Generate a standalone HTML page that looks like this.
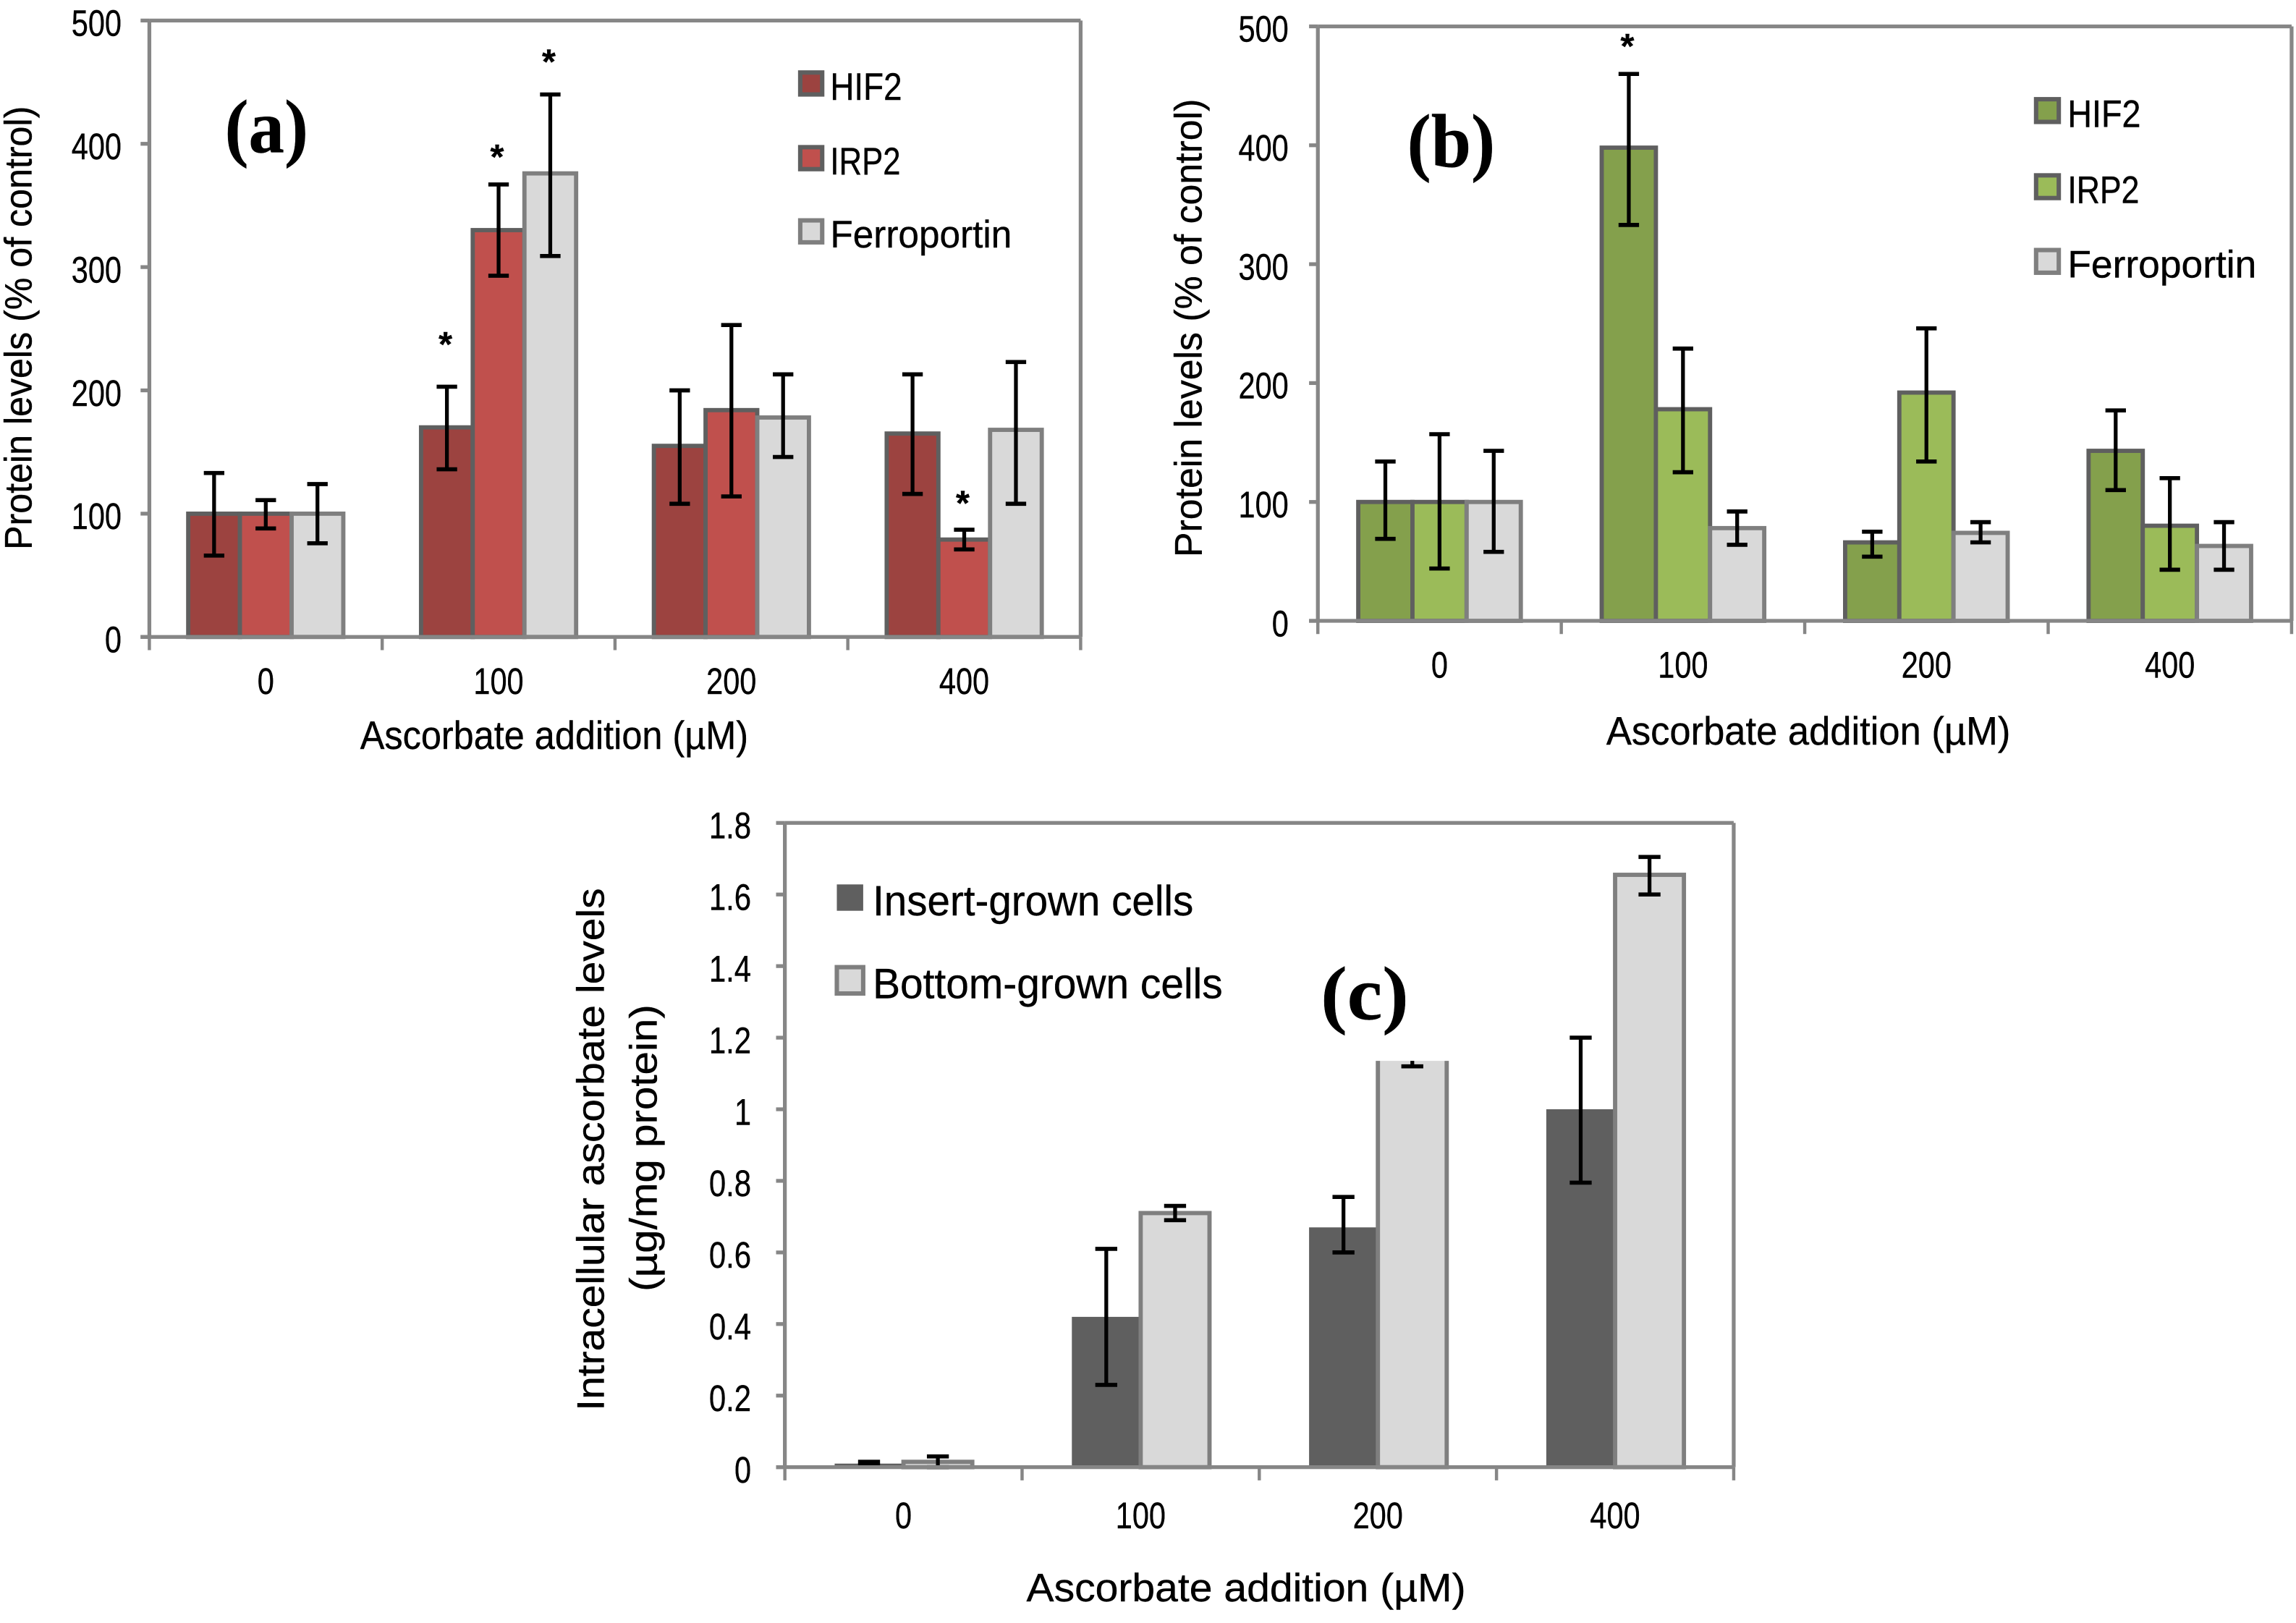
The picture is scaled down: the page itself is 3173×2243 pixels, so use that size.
<!DOCTYPE html>
<html lang="en">
<head>
<meta charset="utf-8">
<title>Protein and ascorbate levels by ascorbate addition</title>
<style>
html,body{margin:0;padding:0;background:#fff;}
svg{display:block;width:3173px;height:2243px;}
text{font-family:"Liberation Sans",sans-serif;fill:#000;stroke:#000;stroke-width:0.2;}
</style>
</head>
<body>
<svg id="figure" xmlns="http://www.w3.org/2000/svg" viewBox="0 0 1568 1108.4" width="3173" height="2243">
  <rect x="0" y="0" width="1568" height="1108.4" fill="#fff"/>
</svg>
<script>
const categories = ['0', '100', '200', '400'];

const panelASeries = ['HIF2', 'IRP2', 'Ferroportin'];
const panelAHif2 = [100, 170, 155, 165];
const panelAIrp2 = [100, 330, 184, 79];
const panelAFerro = [100, 376, 178, 168];
const panelAHif2Low = [66, 136, 108, 116];
const panelAHif2High = [133, 203, 200, 213];
const panelAIrp2Low = [88, 293, 114, 71];
const panelAIrp2High = [111, 367, 253, 87];
const panelAFerroLow = [76, 309, 146, 108];
const panelAFerroHigh = [124, 440, 213, 223];
const panelAHif2Stars = [null, 241, null, null];
const panelAIrp2Stars = [null, 393, null, 112];
const panelAFerroStars = [null, 470, null, null];
const panelATicks = ['0', '100', '200', '300', '400', '500'];

const panelBSeries = ['HIF2', 'IRP2', 'Ferroportin'];
const panelBHif2 = [100, 398, 66, 143];
const panelBIrp2 = [100, 178, 192, 80];
const panelBFerro = [100, 78, 74, 63];
const panelBHif2Low = [69, 333, 54, 110];
const panelBHif2High = [134, 460, 75, 177];
const panelBIrp2Low = [44, 125, 134, 43];
const panelBIrp2High = [157, 229, 246, 120];
const panelBFerroLow = [58, 64, 66, 43];
const panelBFerroHigh = [143, 92, 83, 83];
const panelBHif2Stars = [null, 487, null, null];
const panelBTicks = ['0', '100', '200', '300', '400', '500'];

const panelCSeries = ['Insert-grown cells', 'Bottom-grown cells'];
const panelCInsert = [0.01, 0.42, 0.67, 1.0];
const panelCBottom = [0.015, 0.71, 1.2, 1.655];
const panelCInsertLow = [0.005, 0.23, 0.6, 0.795];
const panelCInsertHigh = [0.015, 0.61, 0.755, 1.2];
const panelCBottomLow = [0, 0.69, 1.12, 1.6];
const panelCBottomHigh = [0.03, 0.73, 1.28, 1.705];
const panelCTicks = ['0', '0.2', '0.4', '0.6', '0.8', '1', '1.2', '1.4', '1.6', '1.8'];

const NS = 'http://www.w3.org/2000/svg';
const root = document.getElementById('figure');
const AXIS = '#868686';

function addLine(parent, x1, y1, x2, y2, color, w, name) {
  const el = document.createElementNS(NS, 'line');
  el.setAttribute('x1', x1);
  el.setAttribute('y1', y1);
  el.setAttribute('x2', x2);
  el.setAttribute('y2', y2);
  el.setAttribute('stroke', color);
  el.setAttribute('stroke-width', w);
  
  
  parent.appendChild(el);
  return el;
}

function addRect(parent, x, y, w, h, fill, stroke, sw, name) {
  const el = document.createElementNS(NS, 'rect');
  el.setAttribute('x', x);
  el.setAttribute('y', y);
  el.setAttribute('width', w);
  el.setAttribute('height', h);
  el.setAttribute('fill', fill);
  el.setAttribute('stroke', stroke);
  el.setAttribute('stroke-width', sw);
  
  
  parent.appendChild(el);
  return el;
}

function addText(parent, str, x, y, size, len, anchor, name, rotated) {
  const el = document.createElementNS(NS, 'text');
  el.textContent = str;
  el.setAttribute('x', x);
  el.setAttribute('y', y);
  el.setAttribute('font-size', size);
  el.setAttribute('text-anchor', anchor);
  if (len) {
    el.setAttribute('textLength', len);
    el.setAttribute('lengthAdjust', 'spacingAndGlyphs');
  }
  if (rotated) {
    el.setAttribute('transform', 'rotate(-90 ' + x + ' ' + y + ')');
  }
  
  
  parent.appendChild(el);
  return el;
}

function numberWidth(label) {
  let w = 0;
  for (const ch of label) { w += ch === '.' ? 6 : 11.4; }
  return w;
}

function drawPanel(p) {
  const g = document.createElementNS(NS, 'g');
  
  
  root.appendChild(g);

  const nCat = p.categories.length;
  const band = (p.right - p.left) / nCat;
  const yMax = Number(p.ticks[p.ticks.length - 1]);
  const yScale = v => p.bottom - (v / yMax) * (p.bottom - p.top);
  const xBar = (c, s) => p.left + band * c + p.barGap / 2 + s * p.barWidth;
  const xCenter = c => p.left + band * (c + 0.5);

  // frame
  addLine(g, p.left, p.top, p.right, p.top, AXIS, 2.6, 'plot-frame-top');
  addLine(g, p.right, p.top, p.right, p.bottom, AXIS, 2.6, 'plot-frame-right');
  addLine(g, p.left, p.top, p.left, p.bottom, AXIS, 2.6, 'y-axis-line');

  // bars
  p.values.forEach((vals, s) => {
    vals.forEach((v, c) => {
      const x = xBar(c, s);
      const y = yScale(v);
      const sw = p.strokes[s] === 'none' ? 0 : 2.9;
      addRect(g, x, y, p.barWidth, p.bottom - y, p.fills[s], p.strokes[s], sw, 'bar-' + p.series[s].toLowerCase().replace(/[^a-z0-9]+/g, '-') + '-' + p.categories[c]);
    });
  });

  // error bars
  p.values.forEach((vals, s) => {
    vals.forEach((v, c) => {
      const x = xBar(c, s) + p.barWidth / 2;
      const lo = yScale(p.low[s][c]);
      const hi = yScale(p.high[s][c]);
      const suffix = p.series[s].toLowerCase().replace(/[^a-z0-9]+/g, '-') + '-' + p.categories[c];
      addLine(g, x, lo, x, hi, '#000', 2.6, 'error-bar-' + suffix);
      addLine(g, x - p.cap, lo, x + p.cap, lo, '#000', 2.8, 'error-cap-low-' + suffix);
      addLine(g, x - p.cap, hi, x + p.cap, hi, '#000', 2.8, 'error-cap-high-' + suffix);
    });
  });

  // significance stars
  p.stars.forEach((arr, s) => {
    arr.forEach((v, c) => {
      if (v === null) return;
      const x = xBar(c, s) + p.barWidth / 2 - 1;
      const star = addText(g, '*', x, yScale(v) + 11, 24, null, 'middle', 'significance-star');
      star.setAttribute('font-weight', 'bold');
    });
  });

  // mask behind the panel letter
  if (p.mask) {
    addRect(g, p.mask.x, p.mask.y, p.mask.w, p.mask.h, '#fff', 'none', 0, 'panel-label-background');
  }

  // axes on top
  addLine(g, p.left - 6, p.bottom, p.right, p.bottom, AXIS, 2.6, 'x-axis-line');
  for (let c = 0; c <= nCat; c++) {
    const x = p.left + band * c;
    addLine(g, x, p.bottom, x, p.bottom + 9, AXIS, 2.2, 'x-tick');
  }
  p.ticks.forEach(t => {
    const y = yScale(Number(t));
    addLine(g, p.left - 6, y, p.left, y, AXIS, 2.6, 'y-tick');
    addText(g, t, p.tickRight, y + 10.5, 25, numberWidth(t), 'end', 'y-tick-label-' + t);
  });
  p.categories.forEach((label, c) => {
    addText(g, label, xCenter(c), p.xLabelY + 8.8, 25, numberWidth(label), 'middle', 'x-tick-label-' + label);
  });

  // titles
  addText(g, p.xTitle.text, p.xTitle.x, p.xTitle.y + 8.5, 27, p.xTitle.len, 'middle', 'x-axis-title');
  p.yTitles.forEach((t, i) => {
    addText(g, t.text, t.x + 8.5, t.y, 26, t.len, 'middle', 'y-axis-title-' + (i + 1), true);
  });

  // panel letter
  const letter = addText(g, p.letter.text, p.letter.x, p.letter.y + 14, 52, p.letter.len, 'middle', 'panel-label');
  letter.setAttribute('font-weight', 'bold');
  letter.style.fontFamily = '"Liberation Serif",serif';

  // legend
  p.series.forEach((name, s) => {
    const row = p.legend[s];
    const sw = p.strokes[s] === 'none' ? 0 : 3;
    const slug = name.toLowerCase().replace(/[^a-z0-9]+/g, '-');
    addRect(g, p.legendX, row.y - p.swatch / 2, p.swatch, p.swatch, p.fills[s], p.strokes[s], sw, 'legend-swatch-' + slug);
    addText(g, name, p.legendTextX, row.y + 2 + p.legendSize * 0.35, p.legendSize, row.len, 'start', 'legend-label-' + slug);
  });
}

drawPanel({
  id: 'a', left: 102, right: 738, top: 14, bottom: 435,
  barWidth: 35.3, barGap: 53.1, cap: 7,
  categories: categories, ticks: panelATicks, series: panelASeries,
  values: [panelAHif2, panelAIrp2, panelAFerro],
  low: [panelAHif2Low, panelAIrp2Low, panelAFerroLow],
  high: [panelAHif2High, panelAIrp2High, panelAFerroHigh],
  stars: [panelAHif2Stars, panelAIrp2Stars, panelAFerroStars],
  fills: ['#9c4340', '#c0504d', '#d9d9d9'],
  strokes: ['#5f5f5f', '#5f5f5f', '#7f7f7f'],
  tickRight: 83, xLabelY: 465,
  xTitle: { text: 'Ascorbate addition (µM)', x: 378.5, y: 503, len: 265 },
  yTitles: [{ text: 'Protein levels (% of control)', x: 13, y: 224, len: 303 }],
  letter: { text: '(a)', x: 182, y: 90, len: 57 },
  legendX: 546.5, legendTextX: 567, swatch: 15, legendSize: 26,
  legend: [{ y: 57, len: 49 }, { y: 108, len: 48 }, { y: 158, len: 124 }]
});

drawPanel({
  id: 'b', left: 900, right: 1565, top: 18, bottom: 424,
  barWidth: 37, barGap: 55.2, cap: 7,
  categories: categories, ticks: panelBTicks, series: panelBSeries,
  values: [panelBHif2, panelBIrp2, panelBFerro],
  low: [panelBHif2Low, panelBIrp2Low, panelBFerroLow],
  high: [panelBHif2High, panelBIrp2High, panelBFerroHigh],
  stars: [panelBHif2Stars, [null, null, null, null], [null, null, null, null]],
  fills: ['#84a04c', '#9bbb59', '#d9d9d9'],
  strokes: ['#5f5f5f', '#5f5f5f', '#7f7f7f'],
  tickRight: 880, xLabelY: 454,
  xTitle: { text: 'Ascorbate addition (µM)', x: 1235, y: 500, len: 276 },
  yTitles: [{ text: 'Protein levels (% of control)', x: 812, y: 224, len: 313 }],
  letter: { text: '(b)', x: 991, y: 100, len: 60 },
  legendX: 1390.5, legendTextX: 1412, swatch: 15.5, legendSize: 26,
  legend: [{ y: 75.5, len: 50 }, { y: 127.5, len: 49 }, { y: 178.5, len: 129 }]
});

drawPanel({
  id: 'c', left: 536, right: 1184, top: 562, bottom: 1002,
  barWidth: 47, barGap: 68, cap: 7.5,
  categories: categories, ticks: panelCTicks, series: panelCSeries,
  values: [panelCInsert, panelCBottom],
  low: [panelCInsertLow, panelCBottomLow],
  high: [panelCInsertHigh, panelCBottomHigh],
  stars: [],
  fills: ['#5f5f5f', '#d9d9d9'],
  strokes: ['none', '#7f7f7f'],
  mask: { x: 885, y: 640, w: 115, h: 84.5 },
  tickRight: 513, xLabelY: 1035,
  xTitle: { text: 'Ascorbate addition (µM)', x: 851, y: 1085, len: 300 },
  yTitles: [
    { text: 'Intracellular ascorbate levels', x: 404, y: 785, len: 357 },
    { text: '(µg/mg protein)', x: 440, y: 784, len: 196 }
  ],
  letter: { text: '(c)', x: 932, y: 682, len: 60 },
  legendX: 571.5, legendTextX: 596, swatch: 18, legendSize: 29,
  legend: [{ y: 613, len: 219 }, { y: 669.5, len: 239 }]
});
</script>
</body>
</html>
